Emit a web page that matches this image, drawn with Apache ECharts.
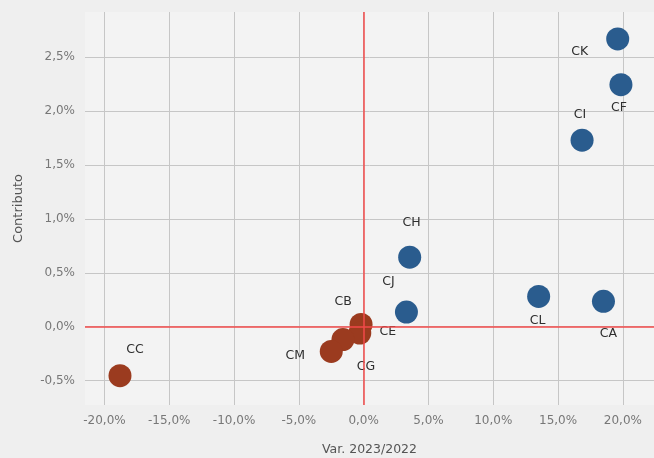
<!DOCTYPE html>
<html>
<head>
<meta charset="utf-8">
<script src="https://cdn.jsdelivr.net/npm/echarts@6/dist/echarts.min.js"></script>
<style>
html,body{margin:0;padding:0;background:#efefef;}
#chart{width:654px;height:458px;}
</style>
</head>
<body>
<div id="chart"></div>
<script>
// Data
const names   = ['CK','CF','CI','CH','CJ','CL','CA','CC','CB','CE','CG','CM'];
const varX    = [19.6, 19.85, 16.85, 3.55, 3.3, 13.5, 18.5, -18.8, -0.2, -0.3, -1.6, -2.5];
const contrib = [2.67, 2.245, 1.73, 0.645, 0.135, 0.28, 0.235, -0.455, 0.02, -0.06, -0.12, -0.23];
const xTicks  = [-20, -15, -10, -5, 0, 5, 10, 15, 20];
const yTicks  = [-0.5, 0, 0.5, 1, 1.5, 2, 2.5];

// Label layout (offsets in px from the point centre)
const labelOffsets = {
  CK:[-38,13], CF:[-2,23], CI:[-2,-25], CH:[2,-34], CJ:[-18,-30], CL:[-1,24],
  CA:[5,32], CC:[15,-26], CB:[-18,-23], CE:[28,-1], CG:[23,27], CM:[-36,4]
};
const BLUE = '#2a5c8e', BROWN = '#9b3b1f';
const FONT = 'DejaVu Sans';

const fmt = v => v.toFixed(1).replace('.', ',') + '%';

function makeItems(filterFn) {
  const out = [];
  names.forEach((n, i) => {
    if (!filterFn(i)) return;
    out.push({
      name: n,
      value: [varX[i], contrib[i]],
      label: { offset: labelOffsets[n] }
    });
  });
  return out;
}

const chart = echarts.init(document.getElementById('chart'), null, {renderer: 'canvas'});
const labelStyle = {
  show: true, position: 'inside', formatter: p => p.name,
  color: '#2e2e2e', fontFamily: FONT, fontSize: 12.5
};
chart.setOption({
  backgroundColor: '#efefef',
  animation: false,
  grid: {
    left: 85, right: 0, top: 12, bottom: 53,
    outerBoundsMode: 'none', containLabel: false,
    show: true, backgroundColor: '#f3f3f3', borderWidth: 0
  },
  xAxis: {
    type: 'value', min: -21.5, max: 22.4,
    name: 'Var. 2023/2022', nameLocation: 'middle', nameGap: 38,
    nameTextStyle: { color: '#555', fontFamily: FONT, fontSize: 12.5 },
    axisLine: { show: false }, axisTick: { show: false, customValues: xTicks },
    axisLabel: { customValues: xTicks, formatter: fmt, color: '#777', fontFamily: FONT, fontSize: 12, margin: 10 },
    splitLine: { show: true, lineStyle: { color: '#c6c6c6', width: 1 } }
  },
  yAxis: {
    type: 'value', min: -0.727, max: 2.92,
    name: 'Contributo', nameLocation: 'middle', nameGap: 60,
    nameTextStyle: { color: '#555', fontFamily: FONT, fontSize: 13 },
    axisLine: { show: false }, axisTick: { show: false, customValues: yTicks },
    axisLabel: { customValues: yTicks, formatter: fmt, color: '#777', fontFamily: FONT, fontSize: 12, margin: 10 },
    splitLine: { show: true, lineStyle: { color: '#c6c6c6', width: 1 } }
  },
  series: [
    {
      type: 'scatter', symbolSize: 23,
      itemStyle: { color: BLUE, opacity: 1 },
      label: labelStyle,
      data: makeItems(i => varX[i] > 0),
      markLine: {
        silent: true, symbol: 'none', animation: false,
        label: { show: false },
        lineStyle: { color: '#f24a4a', width: 1.5, type: 'solid' },
        data: [{ xAxis: 0 }, { yAxis: 0 }]
      },
      z: 3
    },
    {
      type: 'scatter', symbolSize: 23,
      itemStyle: { color: BROWN, opacity: 1 },
      label: labelStyle,
      data: makeItems(i => varX[i] <= 0),
      z: 3
    }
  ]
});
</script>
</body>
</html>
